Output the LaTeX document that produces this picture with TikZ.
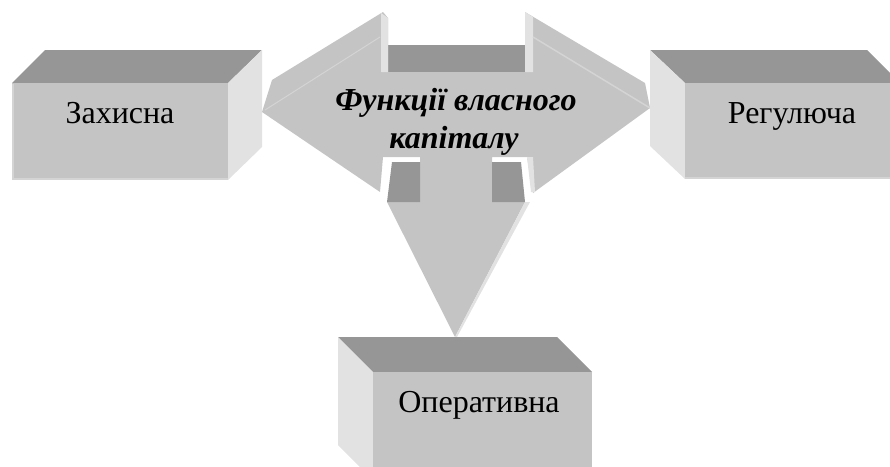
\documentclass[tikz,border=0pt]{standalone}
\usepackage{fontspec}
\setmainfont{Liberation Serif}
\newfontfamily\blockfont{Liberation Serif}
\definecolor{facegray}{HTML}{C4C4C4}
\definecolor{lidgray}{HTML}{969696}
\definecolor{flankgray}{HTML}{E2E2E2}
\definecolor{bevelgray}{HTML}{D4D4D4}

\begin{document}
\begin{tikzpicture}[x=1pt,y=-1pt,
    face/.style={fill=facegray},
    lid/.style={fill=lidgray},
    flank/.style={fill=flankgray},
    boxtext/.style={font=\blockfont\fontsize{32}{38}\selectfont,anchor=base,inner sep=0pt},
    headtext/.style={font=\blockfont\fontsize{32}{38}\selectfont\bfseries\itshape,anchor=base,inner sep=0pt}]
  \useasboundingbox (0,0) rectangle (890,466);
  \clip (0,0) rectangle (890,466);

  % three-way arrow
  \fill[lid] (383,45) rectangle (530,72);
  \fill[face] (383,12) -- (272,80) -- (262,112) -- (380,192) -- (383,157)
    -- (420,157) -- (420,202) -- (387,202) -- (455,337) -- (525,202)
    -- (492,202) -- (492,157) -- (527,157) -- (533,193) -- (650,108)
    -- (645,83) -- (525,12) -- (525,72) -- (388,72) -- (388,18) -- cycle;
  \fill[flank] (381,13) -- (388,18) -- (388,72) -- (381,72) -- cycle;
  \fill[flank] (525,12) -- (533,17) -- (533,72) -- (525,72) -- cycle;
  \fill[flank] (527,157) -- (533,157) -- (535,192) -- (531,192) -- cycle;
  \fill[lid] (392,162) -- (420,162) -- (420,202) -- (387,202) -- cycle;
  \fill[lid] (492,162) -- (521,162) -- (525,202) -- (492,202) -- cycle;
  \fill[flank] (525,202) -- (530,202) -- (457,337) -- (455,337) -- cycle;
  \draw[bevelgray,line width=1.5] (533,37) -- (650,108);
  \draw[bevelgray,line width=1] (380,37) -- (265,110);

  \node[headtext] (head1) at (456,110) {Функції власного};
  \node[headtext] (head2) at (454,148) {капіталу};

  % left block
  \fill[lid]   (12,83) -- (45,50) -- (262,50) -- (228,83) -- cycle;
  \fill[flank] (228,83) -- (262,50) -- (262,147) -- (228,180) -- cycle;
  \fill[face]  (12,83) rectangle (228,180);
  \draw[bevelgray,line width=1.5] (13,84) -- (13,179) -- (228,179);
  \node[boxtext] (zakhysna) at (120,123) {Захисна};

  % right block
  \fill[lid]   (650,50) -- (867,50) -- (900,83) -- (685,83) -- cycle;
  \fill[flank] (650,50) -- (685,83) -- (685,179) -- (650,146) -- cycle;
  \fill[face]  (685,83) rectangle (900,179);
  \draw[bevelgray,line width=1.5] (685,178) -- (890,178);
  \node[boxtext] (rehuliuiucha) at (792,123) {Регулюча};

  % bottom block
  \fill[lid]   (338,337) -- (557,337) -- (592,372) -- (373,372) -- cycle;
  \fill[flank] (338,337) -- (373,372) -- (373,480) -- (338,445) -- cycle;
  \fill[face]  (373,372) rectangle (592,480);
  \node[boxtext] (operatyvna) at (479,412) {Оперативна};
\end{tikzpicture}
\end{document}
